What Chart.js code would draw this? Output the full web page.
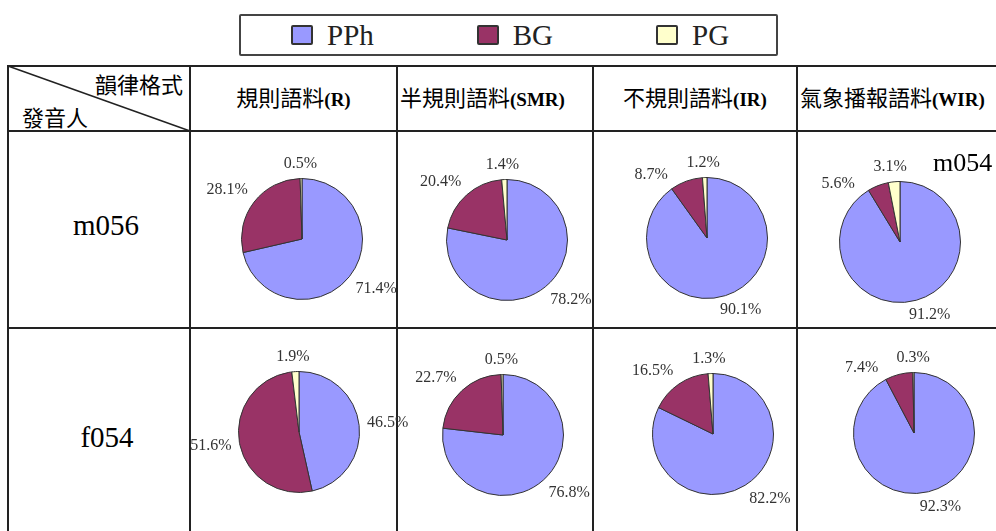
<!DOCTYPE html>
<html>
<head>
<meta charset="utf-8">
<script src="https://cdn.jsdelivr.net/npm/chart.js@4/dist/chart.umd.min.js"></script>
<style>
html,body{margin:0;padding:0;background:#fff;}
body{width:996px;height:531px;overflow:hidden;position:relative;}
.hl{position:absolute;height:2px;background:#222;}
.vl{position:absolute;width:2px;background:#222;}
.t{position:absolute;white-space:nowrap;color:#000;}
.cjk{font-family:"Noto Sans CJK TC","Noto Sans CJK SC",sans-serif;font-size:22px;}
.lat{font-family:"Liberation Serif",serif;font-size:19px;font-weight:bold;}
.hdr{position:absolute;display:flex;align-items:center;white-space:nowrap;overflow:visible;}
.hdr .in{display:inline-block;line-height:24px;white-space:nowrap;}
.row{font-family:"Liberation Serif",serif;font-size:29px;line-height:29px;text-align:center;width:200px;}
#legend{position:absolute;left:239px;top:14px;width:485px;height:38px;border:2px solid #444;border-radius:2px;
  display:flex;align-items:center;padding-left:50px;box-sizing:content-box;gap:103px;}
#legend .item{display:flex;align-items:center;}
#legend .mk{width:18px;height:16px;border:2px solid #333;border-radius:2px;}
#legend .lb{font-family:"Liberation Serif",serif;font-size:29px;line-height:29px;color:#222;margin-left:14px;}
canvas{position:absolute;}
</style>
</head>
<body>
<div id="legend"></div>
<div id="stage"></div>
<script>
// ---------- data ----------
const categories = ['PPh', 'BG', 'PG'];
const speakers = ['m056', 'f054'];
const corpusNames = ['規則語料', '半規則語料', '不規則語料', '氣象播報語料'];
const corpusCodes = ['(R)', '(SMR)', '(IR)', '(WIR)'];
const m056Values = [
  [71.4, 28.1, 0.5],
  [78.2, 20.4, 1.4],
  [90.1, 8.7, 1.2],
  [91.2, 5.6, 3.1]
];
const f054Values = [
  [46.5, 51.6, 1.9],
  [76.8, 22.7, 0.5],
  [82.2, 16.5, 1.3],
  [92.3, 7.4, 0.3]
];
const cornerTop = '韻律格式';
const cornerBottom = '發音人';
const overlayNote = 'm054';

// ---------- styles / layout ----------
const sliceColors = ['#9999FF', '#993366', '#FFFFCC'];
const colLines = [8, 190, 397, 593, 797, 1001];
const rowLines = [66, 131, 328];
const headerAlign = ['center', 'left', 'center', 'left'];
const pieCenters = [
  [[302, 239], [507, 240], [707, 238], [900, 242]],
  [[299, 432], [503, 435], [713, 434], [914, 433]]
];
const rowLabelCenters = [[106, 225], [107, 437]];

const stage = document.getElementById('stage');
function el(tag, cls, styles, html) {
  const e = document.createElement(tag);
  if (cls) e.className = cls;
  Object.assign(e.style, styles || {});
  if (html !== undefined) e.innerHTML = html;
  stage.appendChild(e);
  return e;
}

// legend
const legend = document.getElementById('legend');
categories.forEach((c, i) => {
  const it = document.createElement('div');
  it.className = 'item';
  it.innerHTML = '<div class="mk" style="background:' + sliceColors[i] + '"></div><div class="lb">' + c + '</div>';
  legend.appendChild(it);
});

// table lines
rowLines.forEach(y => el('div', 'hl', {left: (colLines[0] - 1) + 'px', top: (y - 1) + 'px', width: (996 - colLines[0] + 1) + 'px'}));
colLines.slice(0, 5).forEach(x => el('div', 'vl', {left: (x - 1) + 'px', top: (rowLines[0] - 1) + 'px', height: (531 - rowLines[0] + 1) + 'px'}));

// diagonal in corner cell
const svgNS = 'http://www.w3.org/2000/svg';
const svg = document.createElementNS(svgNS, 'svg');
svg.setAttribute('width', 996); svg.setAttribute('height', 531);
svg.style.position = 'absolute'; svg.style.left = '0'; svg.style.top = '0';
const ln = document.createElementNS(svgNS, 'line');
ln.setAttribute('x1', colLines[0]); ln.setAttribute('y1', rowLines[0]);
ln.setAttribute('x2', colLines[1]); ln.setAttribute('y2', rowLines[1]);
ln.setAttribute('stroke', '#222'); ln.setAttribute('stroke-width', '1.5');
svg.appendChild(ln);
stage.appendChild(svg);

// corner texts
el('div', 't cjk', {left: '0px', width: '183px', textAlign: 'right', top: '71px', lineHeight: '24px'}, cornerTop);
el('div', 't cjk', {left: '22px', top: '104px', lineHeight: '24px'}, cornerBottom);

// column headers
corpusNames.forEach((n, i) => {
  const x0 = colLines[i + 1], x1 = colLines[i + 2];
  el('div', 'hdr', {
    left: (x0 + 3) + 'px', width: (x1 - x0 - 6) + 'px', top: rowLines[0] + 'px',
    height: (rowLines[1] - rowLines[0]) + 'px',
    justifyContent: headerAlign[i] === 'center' ? 'center' : 'flex-start'
  }, '<span class="in"><span class="cjk">' + n + '</span><span class="lat">' + corpusCodes[i] + '</span></span>');
});

// row labels
speakers.forEach((s, r) => {
  const [cx, cy] = rowLabelCenters[r];
  el('div', 't row', {left: (cx - 100) + 'px', top: (cy - 14.5) + 'px'}, s);
});

// ---------- outside labels plugin ----------
function clamp(v) { return Math.max(-1, Math.min(1, v)); }
function placeLabel(arc, ang, w, h) {
  const dx = Math.cos(ang), dy = Math.sin(ang);
  const rr = arc.outerRadius + 8;
  const ax = arc.x + rr * dx, ay = arc.y + rr * dy;
  return {x: ax + (w / 2) * clamp(2 * dx), y: ay + (h / 2) * clamp(2 * dy), w, h};
}
function overlaps(a, b) {
  return Math.abs(a.x - b.x) < (a.w + b.w) / 2 + 18 && Math.abs(a.y - b.y) < (a.h + b.h) / 2 + 3;
}
const outsideLabels = {
  id: 'outsideLabels',
  afterDatasetsDraw(chart) {
    const ctx = chart.ctx;
    const meta = chart.getDatasetMeta(0);
    const vals = chart.data.datasets[0].data;
    ctx.save();
    ctx.font = '16px "Liberation Serif", serif';
    ctx.fillStyle = '#333';
    ctx.textAlign = 'center';
    ctx.textBaseline = 'middle';
    const h = 14;
    const boxes = [];
    for (let i = vals.length - 1; i >= 0; i--) {
      const arc = meta.data[i];
      const txt = vals[i].toFixed(1) + '%';
      const w = ctx.measureText(txt).width;
      let ang = (arc.startAngle + arc.endAngle) / 2;
      let pos = placeLabel(arc, ang, w, h);
      for (let k = 0; k < 90 && boxes.some(b => overlaps(b, pos)); k++) {
        ang -= Math.PI / 180;
        pos = placeLabel(arc, ang, w, h);
      }
      boxes.push(pos);
      ctx.fillText(txt, pos.x, pos.y);
    }
    ctx.restore();
  }
};

// ---------- pies ----------
const W = 240, H = 230;
[m056Values, f054Values].forEach((rowVals, r) => {
  rowVals.forEach((vals, c) => {
    const [cx, cy] = pieCenters[r][c];
    const cv = document.createElement('canvas');
    cv.width = W; cv.height = H;
    cv.style.left = (cx - W / 2) + 'px';
    cv.style.top = (cy - H / 2) + 'px';
    cv.style.width = W + 'px'; cv.style.height = H + 'px';
    stage.appendChild(cv);
    new Chart(cv, {
      type: 'pie',
      data: {
        labels: categories,
        datasets: [{
          data: vals,
          backgroundColor: sliceColors,
          borderColor: '#333',
          borderWidth: 1
        }]
      },
      options: {
        responsive: false,
        animation: false,
        devicePixelRatio: 1,
        layout: {padding: {left: 58, right: 58, top: 54, bottom: 54}},
        plugins: {legend: {display: false}, tooltip: {enabled: false}}
      },
      plugins: [outsideLabels]
    });
  });
});

// overlay note in top-right cell
el('div', 't', {left: '933px', top: '150px', fontFamily: '"Liberation Serif",serif', fontSize: '26px', lineHeight: '26px'}, overlayNote);
</script>
</body>
</html>
